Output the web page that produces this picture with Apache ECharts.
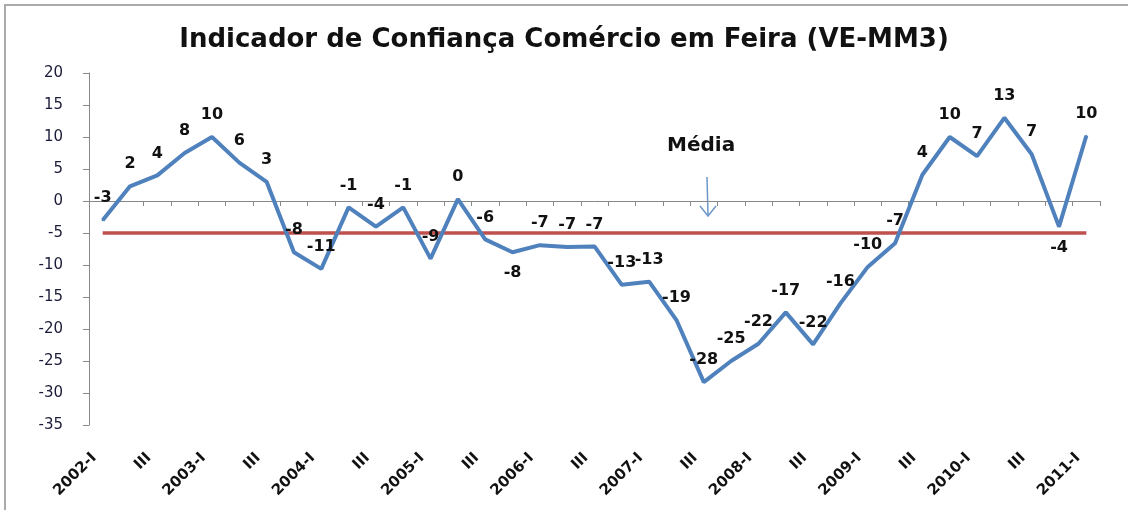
<!DOCTYPE html>
<html>
<head>
<meta charset="utf-8">
<script src="https://cdn.jsdelivr.net/npm/echarts@6/dist/echarts.min.js"></script>
<style>
  html, body { margin: 0; padding: 0; background: #fff; }
  #chart { width: 1128px; height: 510px; }
</style>
</head>
<body>
<div id="chart"></div>
<script>
// trimestres 2002-I .. 2011-I
const categories = [
    '2002-I', 'II', 'III', 'IV',
    '2003-I', 'II', 'III', 'IV',
    '2004-I', 'II', 'III', 'IV',
    '2005-I', 'II', 'III', 'IV',
    '2006-I', 'II', 'III', 'IV',
    '2007-I', 'II', 'III', 'IV',
    '2008-I', 'II', 'III', 'IV',
    '2009-I', 'II', 'III', 'IV',
    '2010-I', 'II', 'III', 'IV',
    '2011-I'
]
const indicador = [
    -3, 2.3, 4, 7.5, 10, 6, 3, -8, -10.6, -1, -4, -1, -9, 0.3, -6, -8,
    -6.9, -7.2, -7.1, -13.1, -12.6, -18.6, -28.3, -25, -22.3, -17.4, -22.4, -16,
    -10.3, -6.6, 4.1, 10, 7, 13, 7.3, -4, 10.2
]
const media = categories.map(() => -5)
const labelBelow = [15, 35] // pontos com rótulo por baixo

const chart = echarts.init(document.getElementById('chart'))

chart.setOption({
    animation: false,
    title: {
        text: 'Indicador de Confiança Comércio em Feira (VE-MM3)',
        left: 'center',
        top: 22,
        textStyle: {
            fontFamily: 'DejaVu Sans',
            fontWeight: 'bold',
            fontSize: 26,
            color: '#111'
        }
    },
    grid: {
        left: 89,
        right: 28,
        top: 73,
        bottom: 85
    },
    xAxis: [{
        type: 'category',
        data: categories,
        boundaryGap: true,
        axisLine: { onZero: true, lineStyle: { color: '#888', width: 1 } },
        axisTick: { show: true, interval: 0, length: 5, lineStyle: { color: '#888' } },
        axisLabel: { show: false }
    }, {
        type: 'category',
        data: categories,
        position: 'bottom',
        boundaryGap: true,
        axisLine: { show: false, onZero: false },
        axisTick: { show: false },
        axisLabel: {
            interval: 1,
            rotate: 45,
            margin: 22,
            padding: [0, 12, 0, 0],
            fontFamily: 'DejaVu Sans',
            fontWeight: 'bold',
            fontSize: 15,
            color: '#111'
        }
    }],
    yAxis: {
        type: 'value',
        min: -35,
        max: 20,
        interval: 5,
        splitLine: { show: false },
        axisLine: { show: true, lineStyle: { color: '#888' } },
        axisTick: { show: true, length: 6, lineStyle: { color: '#888' } },
        axisLabel: {
            margin: 26,
            fontFamily: 'DejaVu Sans',
            fontSize: 15,
            color: '#1a1a3a'
        }
    },
    series: [{
        name: 'Média',
        type: 'line',
        data: media,
        symbol: 'none',
        lineStyle: { color: '#C0504D', width: 3.5 },
        z: 2
    }, {
        name: 'Indicador',
        type: 'line',
        data: indicador.map((v, i) => ({
            value: v,
            label: labelBelow.includes(i) ? { position: 'bottom', distance: 12 } : undefined
        })),
        symbol: 'circle',
        symbolSize: 2,
        showSymbol: true,
        itemStyle: { color: '#4F81BD' },
        lineStyle: { color: '#4F81BD', width: 4 },
        labelLayout: { hideOverlap: false },
        z: 3,
        label: {
            show: true,
            position: 'top',
            distance: 13,
            formatter: p => Math.round(p.value),
            fontFamily: 'DejaVu Sans',
            fontWeight: 'bold',
            fontSize: 16,
            color: '#111'
        }
    }],
    graphic: [{
        type: 'rect',
        shape: { x: 5, y: 5, width: 1140, height: 520 },
        style: { fill: 'none', stroke: '#aaa', lineWidth: 2 },
        silent: true
    }, {
        type: 'text',
        left: 667,
        top: 136,
        style: {
            text: 'Média',
            fontFamily: 'DejaVu Sans',
            fontWeight: 'bold',
            fontSize: 20,
            fill: '#111'
        }
    }, {
        type: 'polyline',
        shape: { points: [[707, 177], [708, 215]] },
        style: { stroke: '#6f97c9', lineWidth: 1.5 }
    }, {
        type: 'polyline',
        shape: { points: [[700, 206], [708, 216], [716, 206]] },
        style: { stroke: '#6f97c9', lineWidth: 1.5, fill: 'none' }
    }]
})
</script>
</body>
</html>
